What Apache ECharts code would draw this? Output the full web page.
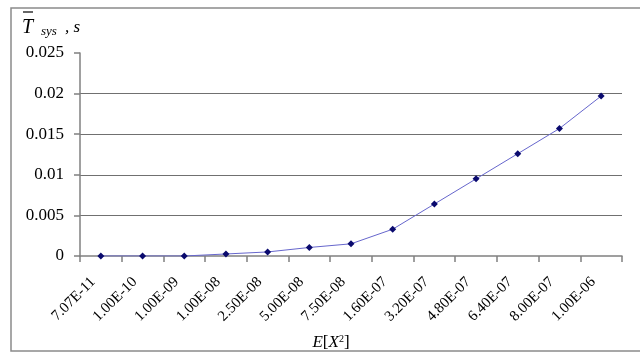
<!DOCTYPE html>
<html><head><meta charset="utf-8">
<script src="https://cdn.jsdelivr.net/npm/echarts@6/dist/echarts.min.js"></script>
<style>html,body{margin:0;padding:0;background:#fff}#c{width:640px;height:353px}</style>
</head><body><div id="c"></div>
<script>
const categories = ['7.07E-11','1.00E-10','1.00E-09','1.00E-08','2.50E-08','5.00E-08','7.50E-08','1.60E-07','3.20E-07','4.80E-07','6.40E-07','8.00E-07','1.00E-06'];
const tsys = [0, 0, 0, 0.00025, 0.0005, 0.00105, 0.0015, 0.0033, 0.0064, 0.0095, 0.0126, 0.0157, 0.0197];
const yTicks = [0, 0.005, 0.01, 0.015, 0.02, 0.025];

const font = '"Liberation Serif", "DejaVu Serif", serif';
const chart = echarts.init(document.getElementById('c'), null, {renderer:'canvas'});
chart.setOption({
  animation: false,
  backgroundColor: '#fff',
  grid: {left: 80, right: 18, top: 53, bottom: 97, containLabel: false, outerBoundsMode: 'none'},
  xAxis: {
    type: 'category', data: categories, boundaryGap: true,
    axisLine: {lineStyle: {color: '#808080', width: 1.5}},
    axisTick: {show: true, alignWithLabel: false, length: 6, lineStyle: {color: '#808080', width: 1.5}},
    axisLabel: {rotate: 45, fontFamily: font, fontSize: 15, color: '#000', margin: 16, interval: 0, padding: [0, 11, 0, 0]},
    name: '{i|E}[{i|X}{sup|2}]', nameLocation: 'middle', nameGap: 78,
    nameTextStyle: {fontFamily: font, fontSize: 17, color: '#000', padding: [0, 40, 0, 0],
      rich: {i: {fontFamily: font, fontStyle: 'italic', fontSize: 17}, sup: {fontFamily: font, fontSize: 10, verticalAlign: 'top', padding: [0,0,8,0]}}}
  },
  yAxis: {
    type: 'value', min: 0, max: 0.025, interval: 0.005,
    axisLine: {show: true, lineStyle: {color: '#808080', width: 1.5}},
    axisTick: {show: true, length: 6, lineStyle: {color: '#808080', width: 1.5}},
    axisLabel: {fontFamily: font, fontSize: 17, color: '#000', margin: 16,
      formatter: v => yTicks.includes(+v.toFixed(3)) ? String(+v.toFixed(3)) : ''},
    splitLine: {show: true, lineStyle: {color: '#707070', width: 1.2},
      showMinLine: false, showMaxLine: false}
  },
  series: [{
    type: 'line', data: tsys,
    symbol: 'diamond', symbolSize: 7,
    lineStyle: {color: '#6666cc', width: 1},
    itemStyle: {color: '#0a0a6e'}
  }],
  graphic: [
    {type: 'rect', shape: {x: 11, y: 8, width: 700, height: 343}, style: {fill: 'none', stroke: '#8a8a8a', lineWidth: 1.5}, silent: true},
    {type: 'text', left: 22, top: 18, style: {text: 'T', font: 'italic 20px ' + font, fill: '#000'}},
    {type: 'line', shape: {x1: 23, y1: 12, x2: 33, y2: 12}, style: {stroke: '#000', lineWidth: 1.2}},
    {type: 'text', left: 41, top: 25, style: {text: 'sys', font: 'italic 13px ' + font, fill: '#000'}},
    {type: 'text', left: 65, top: 19, style: {text: ', s', font: 'italic 17px ' + font, fill: '#000'}}
  ]
});
</script></body></html>
